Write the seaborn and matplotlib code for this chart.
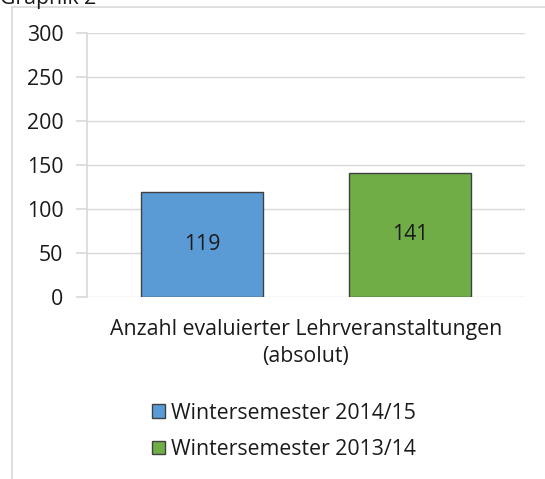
import pandas as pd
import matplotlib
matplotlib.use("Agg")
import matplotlib.pyplot as plt
import seaborn as sns
from matplotlib.patches import Rectangle

# Daten
kategorie = ["Anzahl evaluierter Lehrveranstaltungen\n(absolut)"]
semester = ["Wintersemester 2014/15", "Wintersemester 2013/14"]
werte = [119, 141]
farben = ["#5b9bd5", "#70ad47"]

df = pd.DataFrame({
    "Kategorie": kategorie * len(semester),
    "Semester": semester,
    "Anzahl": werte,
})

sns.set_theme(style="white")
plt.rcParams["font.family"] = ["Open Sans", "DejaVu Sans"]

FS = 15.3
fig = plt.figure(figsize=(5.45, 4.79), dpi=100)
ax = fig.add_axes([0.1596, 0.380, 0.8037, 0.551])

sns.barplot(data=df, x="Kategorie", y="Anzahl", hue="Semester",
            palette=farben, saturation=1, width=0.8, gap=0.413,
            edgecolor="#404040", linewidth=1.0, ax=ax, legend=True)

for cont in ax.containers:
    ax.bar_label(cont, label_type="center", fontsize=FS, color="#1a1a1a")

ax.set_ylim(0, 300)
ax.set_yticks(range(0, 301, 50))
ax.set_xlim(-0.421, 0.421)
ax.grid(axis="y", color="#d9d9d9", linewidth=1)
ax.set_axisbelow(True)
for s in ["top", "right", "bottom"]:
    ax.spines[s].set_visible(False)
ax.spines["left"].set_color("#d9d9d9")
ax.tick_params(axis="y", length=8, color="#d9d9d9", labelsize=FS,
               labelcolor="#1a1a1a", pad=9, left=True)
ax.tick_params(axis="x", length=0, labelsize=FS, labelcolor="#1a1a1a", pad=15.5)
for lab in ax.get_xticklabels():
    lab.set_linespacing(1.4)
ax.set_xlabel("")
ax.set_ylabel("")

leg = ax.legend(loc="upper left", bbox_to_anchor=(0.263, 0.177),
                bbox_transform=fig.transFigure, frameon=False,
                fontsize=FS, handlelength=0.6, handleheight=0.6,
                handletextpad=0.3, labelspacing=0.72, borderaxespad=0)
for t in leg.get_texts():
    t.set_color("#1a1a1a")

# Rahmen und abgeschnittener Titel
fig.patches.append(Rectangle((12 / 545, -0.05), 1, 1.05 - 7 / 479,
                             transform=fig.transFigure, fill=False,
                             edgecolor="#d9d9d9", linewidth=1.2))
fig.text(0.0, 1 - 4 / 479, "Graphik 2", fontsize=FS, va="baseline",
         ha="left", color="#1a1a1a")

fig.savefig("out.png", dpi=100)
